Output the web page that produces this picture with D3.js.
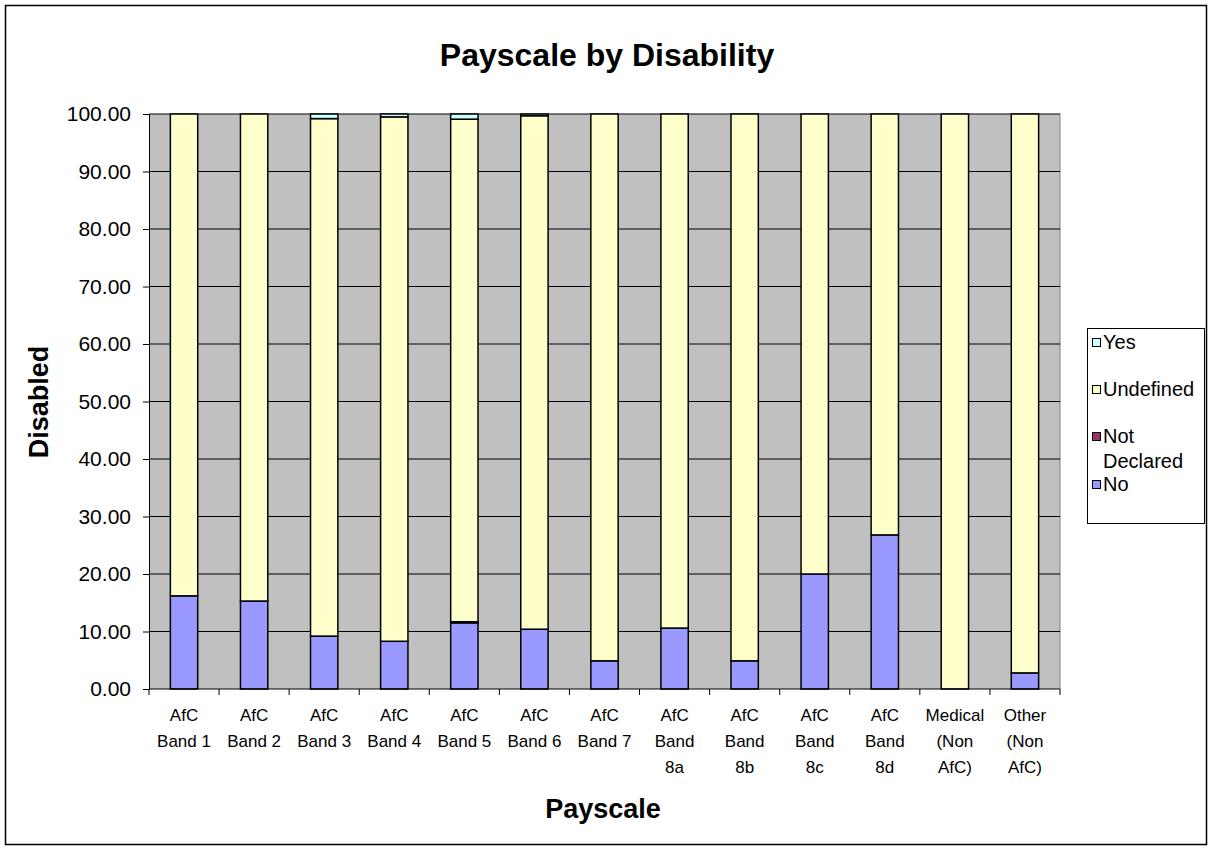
<!DOCTYPE html>
<html>
<head>
<meta charset="utf-8">
<script src="https://cdn.jsdelivr.net/npm/d3@7"></script>
<style>
  body { margin: 0; background: #fff; }
  text { font-family: Arial, "Liberation Sans", sans-serif; }
</style>
</head>
<body>
<div id="chart"></div>
<script>
const width = 1211;
const height = 850;

// DATA
const categories = ["AfC Band 1", "AfC Band 2", "AfC Band 3", "AfC Band 4", "AfC Band 5", "AfC Band 6", "AfC Band 7",
  "AfC Band 8a", "AfC Band 8b", "AfC Band 8c", "AfC Band 8d", "Medical (Non AfC)", "Other (Non AfC)"];
const labelLines = [["AfC", "Band 1"], ["AfC", "Band 2"], ["AfC", "Band 3"], ["AfC", "Band 4"], ["AfC", "Band 5"],
  ["AfC", "Band 6"], ["AfC", "Band 7"], ["AfC", "Band", "8a"], ["AfC", "Band", "8b"], ["AfC", "Band", "8c"],
  ["AfC", "Band", "8d"], ["Medical", "(Non", "AfC)"], ["Other", "(Non", "AfC)"]];
const seriesNames = ["No", "Not Declared", "Undefined", "Yes"];
const noValues =          [16.2, 15.3, 9.2, 8.3, 11.5, 10.4, 4.9, 10.6, 4.9, 20.0, 26.8, 0.0, 2.8];
const notDeclaredValues = [0, 0, 0, 0, 0.2, 0, 0, 0, 0, 0, 0, 0, 0];
const yesValues =         [0, 0, 0.8, 0.5, 0.9, 0.3, 0, 0, 0, 0, 0, 0, 0];
const undefinedValues = categories.map((c, i) => +(100 - noValues[i] - notDeclaredValues[i] - yesValues[i]).toFixed(2));
const yTicks = [0, 10, 20, 30, 40, 50, 60, 70, 80, 90, 100];
const colors = ["#9999FF", "#993366", "#FFFFCC", "#CCFFFF"];

const table = categories.map((c, i) => ({
  cat: c,
  "No": noValues[i],
  "Not Declared": notDeclaredValues[i],
  "Undefined": undefinedValues[i],
  "Yes": yesValues[i]
}));

const plot = { left: 149, right: 1060, top: 114, bottom: 689 };

const svg = d3.select("#chart").append("svg")
  .attr("width", width)
  .attr("height", height);

// outer frame
svg.append("rect")
  .attr("x", 5.5).attr("y", 5.5)
  .attr("width", 1201).attr("height", 839)
  .attr("fill", "#fff").attr("stroke", "#000").attr("stroke-width", 1.5);

const xScale = d3.scaleBand()
  .domain(categories)
  .range([plot.left, plot.right])
  .paddingInner(0.61)
  .paddingOuter(0.305);

const bandScale = d3.scaleBand()
  .domain(categories)
  .range([plot.left, plot.right]);

const yScale = d3.scaleLinear()
  .domain([0, 100])
  .range([plot.bottom, plot.top]);

const colorScale = d3.scaleOrdinal().domain(seriesNames).range(colors);

// plot background
svg.append("rect")
  .attr("x", plot.left).attr("y", plot.top)
  .attr("width", plot.right - plot.left).attr("height", plot.bottom - plot.top)
  .attr("fill", "#C0C0C0");

// right edge of plot
svg.append("line")
  .attr("x1", plot.right).attr("x2", plot.right)
  .attr("y1", plot.top).attr("y2", plot.bottom)
  .attr("stroke", "#808080").attr("stroke-width", 1);

// gridlines
svg.append("g")
  .selectAll("line")
  .data(yTicks.filter(d => d > 0))
  .join("line")
  .attr("x1", plot.left).attr("x2", plot.right)
  .attr("y1", d => yScale(d)).attr("y2", d => yScale(d))
  .attr("stroke", "#000").attr("stroke-width", 1);

// stacked bars
const stacked = d3.stack().keys(seriesNames)(table);

svg.append("g")
  .selectAll("g")
  .data(stacked)
  .join("g")
  .attr("fill", d => colorScale(d.key))
  .selectAll("rect")
  .data(d => d.filter(s => s[1] - s[0] > 0))
  .join("rect")
  .attr("x", d => xScale(d.data.cat))
  .attr("width", xScale.bandwidth())
  .attr("y", d => yScale(d[1]))
  .attr("height", d => yScale(d[0]) - yScale(d[1]))
  .attr("stroke", "#000")
  .attr("stroke-width", 1.5);

// y axis
const yAxis = d3.axisLeft(yScale)
  .tickValues(yTicks)
  .tickFormat(d3.format(".2f"))
  .tickSize(6)
  .tickPadding(12);

const yg = svg.append("g")
  .attr("transform", `translate(${plot.left},0)`)
  .call(yAxis);
yg.selectAll("text").attr("font-size", 21).attr("fill", "#000");
yg.selectAll("line").attr("stroke", "#000");
yg.select(".domain").attr("stroke", "#000");

// x axis (ticks between categories)
const xg = svg.append("g");
xg.append("line")
  .attr("x1", plot.left).attr("x2", plot.right)
  .attr("y1", plot.bottom).attr("y2", plot.bottom)
  .attr("stroke", "#000");
xg.selectAll(".tick")
  .data(categories.concat(["end"]))
  .join("line")
  .attr("x1", (d, i) => i < categories.length ? bandScale(d) : plot.right)
  .attr("x2", (d, i) => i < categories.length ? bandScale(d) : plot.right)
  .attr("y1", plot.bottom).attr("y2", plot.bottom + 6)
  .attr("stroke", "#000");

xg.selectAll(".xlabel")
  .data(categories)
  .join("text")
  .attr("text-anchor", "middle")
  .attr("font-size", 17)
  .attr("fill", "#000")
  .each(function(d, i) {
    const t = d3.select(this);
    labelLines[i].forEach((line, j) => {
      t.append("tspan")
        .attr("x", bandScale(d) + bandScale.bandwidth() / 2)
        .attr("y", 721 + j * 26)
        .text(line);
    });
  });

// title
svg.append("text")
  .attr("x", 607).attr("y", 66)
  .attr("text-anchor", "middle")
  .attr("font-size", 32).attr("font-weight", "bold")
  .text("Payscale by Disability");

// axis titles
svg.append("text")
  .attr("x", 603).attr("y", 818)
  .attr("text-anchor", "middle")
  .attr("font-size", 27).attr("font-weight", "bold")
  .text("Payscale");

svg.append("text")
  .attr("transform", `translate(48,402) rotate(-90)`)
  .attr("text-anchor", "middle")
  .attr("font-size", 27).attr("font-weight", "bold")
  .text("Disabled");

// legend
const legend = svg.append("g");
legend.append("rect")
  .attr("x", 1087.5).attr("y", 328.5)
  .attr("width", 117).attr("height", 195)
  .attr("fill", "#fff").attr("stroke", "#000");

const legendItems = [
  { key: "Yes", lines: ["Yes"], y: 342 },
  { key: "Undefined", lines: ["Undefined"], y: 389 },
  { key: "Not Declared", lines: ["Not", "Declared"], y: 436 },
  { key: "No", lines: ["No"], y: 484 }
];

legendItems.forEach(item => {
  legend.append("rect")
    .attr("x", 1092.5).attr("y", item.y - 3.5)
    .attr("width", 8).attr("height", 8)
    .attr("fill", colorScale(item.key))
    .attr("stroke", "#000");
  const t = legend.append("text")
    .attr("font-size", 20).attr("fill", "#000");
  item.lines.forEach((line, j) => {
    t.append("tspan")
      .attr("x", 1103)
      .attr("y", item.y + 7 + j * 25)
      .text(line);
  });
});
</script>
</body>
</html>
